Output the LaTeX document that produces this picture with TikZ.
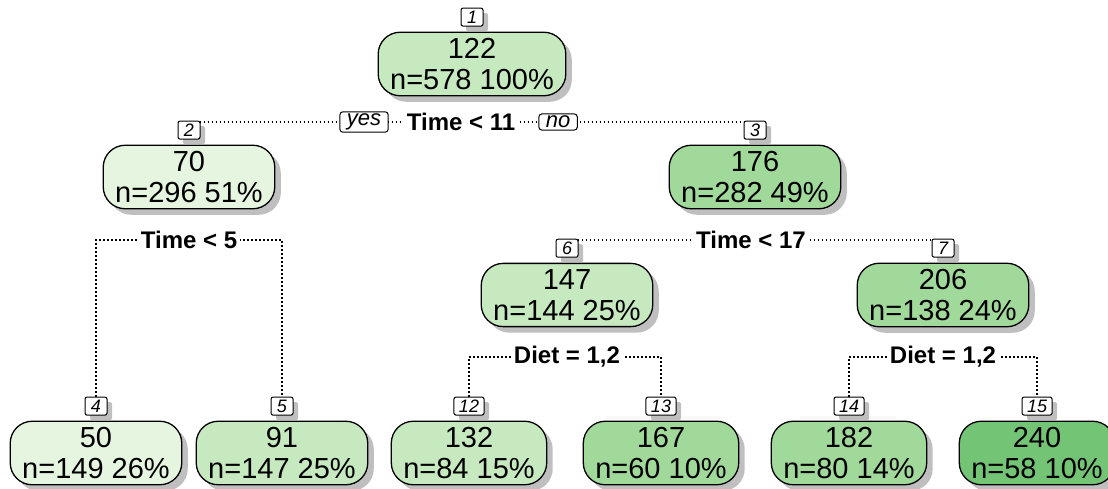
\documentclass[tikz,border=0pt]{standalone}
\usepackage{fontspec}
\setmainfont{Liberation Sans}
\usepackage{xcolor}
\usetikzlibrary{positioning,shadows,backgrounds}
\definecolor{gA}{HTML}{E5F5E0}
\definecolor{gB}{HTML}{C7E9C0}
\definecolor{gC}{HTML}{A1D99B}
\definecolor{gD}{HTML}{74C476}

\begin{document}
\begin{tikzpicture}[x=1pt, y=-1pt,
  box/.style={draw,line width=1.3pt,rounded corners=22pt,align=center,inner xsep=12pt,inner ysep=6pt,
    font=\fontsize{29}{31}\selectfont,
    drop shadow={shadow xshift=6pt,shadow yshift=-6pt,fill=black!25,opacity=1}},
  idx/.style={draw,line width=1pt,fill=white,rounded corners=2pt,inner xsep=5pt,inner ysep=0pt,
    minimum width=22pt,minimum height=18pt,font=\fontsize{18}{18}\selectfont\itshape,
    drop shadow={shadow xshift=5pt,shadow yshift=-5pt,fill=black!25,opacity=1}},
  cond/.style={fill=white,inner xsep=3pt,inner ysep=1pt,font=\fontsize{24}{24}\selectfont\bfseries},
  yn/.style={draw,line width=1pt,fill=white,rounded corners=3pt,inner xsep=7pt,inner ysep=2pt,
    font=\fontsize{22}{22}\selectfont\itshape},
  link/.style={line width=1.2pt,dash pattern=on 1.2pt off 2.8pt}]
  \useasboundingbox (0,0) rectangle (1108,488);
  %--- root ---
  \node[box,fill=gB] (n1) at (472,64) {122\\n=578 100\%};
  \node[idx,above=5pt of n1] (l1) {1};
  \node[cond] (s1) at (461,122) {Time < 11};
  \node[yn,left=15pt of s1] (yes) {yes};
  \node[yn,right=20pt of s1] (no) {no};
  %--- left branch ---
  \node[box,fill=gA] (n2) at (189,177) {70\\n=296 51\%};
  \node[idx,above=5pt of n2] (l2) {2};
  \node[cond] (s2) at (189,240) {Time < 5};
  \node[box,fill=gA] (n4) at (96,453) {50\\n=149 26\%};
  \node[idx,above=5pt of n4] (l4) {4};
  \node[box,fill=gB] (n5) at (282,453) {91\\n=147 25\%};
  \node[idx,above=5pt of n5] (l5) {5};
  %--- right branch ---
  \node[box,fill=gC] (n3) at (755,177) {176\\n=282 49\%};
  \node[idx,above=5pt of n3] (l3) {3};
  \node[cond] (s3) at (751,240) {Time < 17};
  \node[box,fill=gB] (n6) at (567,295) {147\\n=144 25\%};
  \node[idx,above=5pt of n6] (l6) {6};
  \node[cond] (s6) at (567,357) {Diet = 1,2};
  \node[box,fill=gC] (n7) at (943,295) {206\\n=138 24\%};
  \node[idx,above=5pt of n7] (l7) {7};
  \node[cond] (s7) at (943,357) {Diet = 1,2};
  \node[box,fill=gB] (n12) at (469,453) {132\\n=84 15\%};
  \node[idx,above=5pt of n12] (l12) {12};
  \node[box,fill=gC] (n13) at (661,453) {167\\n=60 10\%};
  \node[idx,above=5pt of n13] (l13) {13};
  \node[box,fill=gC] (n14) at (849,453) {182\\n=80 14\%};
  \node[idx,above=5pt of n14] (l14) {14};
  \node[box,fill=gD] (n15) at (1037,453) {240\\n=58 10\%};
  \node[idx,above=5pt of n15] (l15) {15};
  %--- dotted connectors ---
  \begin{scope}[on background layer]
    \draw[link] (l2.north) -- (l2.north |- s1) -- (l3.north |- s1) -- (l3.north);
    \draw[link] (l4.north) -- (l4.north |- s2) -- (l5.north |- s2) -- (l5.north);
    \draw[link] (l6.north) -- (l6.north |- s3) -- (l7.north |- s3) -- (l7.north);
    \draw[link] (l12.north) -- (l12.north |- s6) -- (l13.north |- s6) -- (l13.north);
    \draw[link] (l14.north) -- (l14.north |- s7) -- (l15.north |- s7) -- (l15.north);
  \end{scope}
\end{tikzpicture}
\end{document}
